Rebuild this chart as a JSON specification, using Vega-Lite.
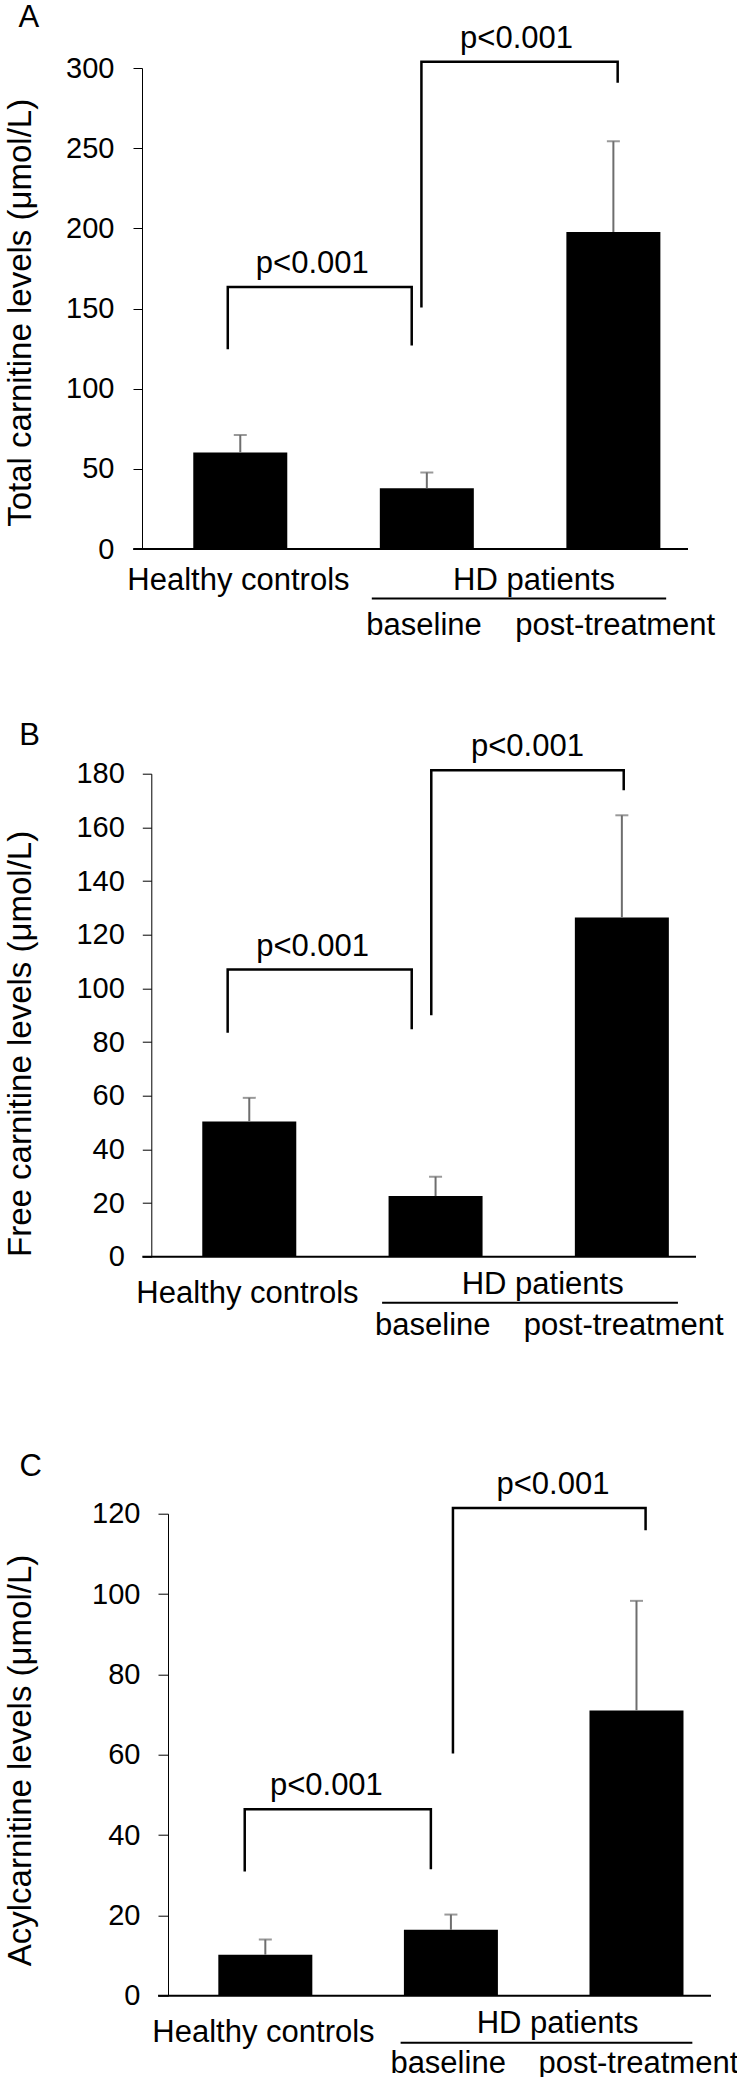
{
  "$schema": "https://vega.github.io/schema/vega-lite/v6.json",
  "padding": {"left": 4, "top": 2, "right": 0, "bottom": 0},
  "background": "#ffffff",
  "config": {
    "view": {"stroke": null},
    "font": "Liberation Sans",
    "axis": {"labelFont": "Liberation Sans", "titleFont": "Liberation Sans"},
    "text": {"font": "Liberation Sans", "color": "#000000"}
  },
  "datasets": {
    "bars": [
      {"panel": "A", "group": "Healthy controls", "x": 1, "y": 60.2, "upper": 71.1},
      {"panel": "A", "group": "HD baseline", "x": 2, "y": 37.9, "upper": 47.7},
      {"panel": "A", "group": "HD post-treatment", "x": 3, "y": 197.7, "upper": 254.3},
      {"panel": "B", "group": "Healthy controls", "x": 1, "y": 50.4, "upper": 59.2},
      {"panel": "B", "group": "HD baseline", "x": 2, "y": 22.6, "upper": 29.8},
      {"panel": "B", "group": "HD post-treatment", "x": 3, "y": 126.4, "upper": 164.5},
      {"panel": "C", "group": "Healthy controls", "x": 1, "y": 10.2, "upper": 14.0},
      {"panel": "C", "group": "HD baseline", "x": 2, "y": 16.4, "upper": 20.2},
      {"panel": "C", "group": "HD post-treatment", "x": 3, "y": 71.0, "upper": 98.3}
    ],
    "brackets": [
      {"panel": "A", "bracket": 1, "order": 1, "x": 0.933, "y": 124.6},
      {"panel": "A", "bracket": 1, "order": 2, "x": 0.933, "y": 163.4},
      {"panel": "A", "bracket": 1, "order": 3, "x": 1.919, "y": 163.4},
      {"panel": "A", "bracket": 1, "order": 4, "x": 1.919, "y": 126.9},
      {"panel": "A", "bracket": 2, "order": 1, "x": 1.971, "y": 150.6},
      {"panel": "A", "bracket": 2, "order": 2, "x": 1.971, "y": 303.9},
      {"panel": "A", "bracket": 2, "order": 3, "x": 3.023, "y": 303.9},
      {"panel": "A", "bracket": 2, "order": 4, "x": 3.023, "y": 290.8},
      {"panel": "B", "bracket": 1, "order": 1, "x": 0.884, "y": 83.5},
      {"panel": "B", "bracket": 1, "order": 2, "x": 0.884, "y": 107.0},
      {"panel": "B", "bracket": 1, "order": 3, "x": 1.872, "y": 107.0},
      {"panel": "B", "bracket": 1, "order": 4, "x": 1.872, "y": 84.8},
      {"panel": "B", "bracket": 2, "order": 1, "x": 1.977, "y": 90.0},
      {"panel": "B", "bracket": 2, "order": 2, "x": 1.977, "y": 181.3},
      {"panel": "B", "bracket": 2, "order": 3, "x": 3.010, "y": 181.3},
      {"panel": "B", "bracket": 2, "order": 4, "x": 3.010, "y": 173.8},
      {"panel": "C", "bracket": 1, "order": 1, "x": 0.889, "y": 30.9},
      {"panel": "C", "bracket": 1, "order": 2, "x": 0.889, "y": 46.4},
      {"panel": "C", "bracket": 1, "order": 3, "x": 1.892, "y": 46.4},
      {"panel": "C", "bracket": 1, "order": 4, "x": 1.892, "y": 31.5},
      {"panel": "C", "bracket": 2, "order": 1, "x": 2.011, "y": 60.3},
      {"panel": "C", "bracket": 2, "order": 2, "x": 2.011, "y": 121.4},
      {"panel": "C", "bracket": 2, "order": 3, "x": 3.049, "y": 121.4},
      {"panel": "C", "bracket": 2, "order": 4, "x": 3.049, "y": 115.9}
    ],
    "notes": [
      {"panel": "A", "kind": "p", "x": 1.386, "y": 163.4, "text": "p<0.001"},
      {"panel": "A", "kind": "p", "x": 2.481, "y": 303.9, "text": "p<0.001"},
      {"panel": "A", "kind": "letter", "x": -0.133, "y": 325.4, "text": "A"},
      {"panel": "B", "kind": "p", "x": 1.340, "y": 107.0, "text": "p<0.001"},
      {"panel": "B", "kind": "p", "x": 2.493, "y": 181.3, "text": "p<0.001"},
      {"panel": "B", "kind": "letter", "x": -0.179, "y": 190.6, "text": "B"},
      {"panel": "C", "kind": "p", "x": 1.329, "y": 46.4, "text": "p<0.001"},
      {"panel": "C", "kind": "p", "x": 2.550, "y": 121.4, "text": "p<0.001"},
      {"panel": "C", "kind": "letter", "x": -0.264, "y": 129.5, "text": "C"}
    ],
    "cats": [
      {"label": "Healthy controls", "x": 0.99, "y": 0, "row": "hc"},
      {"label": "HD patients", "x": 2.575, "y": 0, "row": "hd"},
      {"label": "baseline", "x": 1.985, "y": 0, "row": "sub"},
      {"label": "post-treatment", "x": 3.01, "y": 0, "row": "sub"}
    ],
    "lines": [
      {"panel": "A", "kind": "base", "x": 0.426, "x2": 3.4, "y": 0},
      {"panel": "A", "kind": "under", "x": 1.705, "x2": 3.283, "y": 0},
      {"panel": "B", "kind": "base", "x": 0.426, "x2": 3.398, "y": 0},
      {"panel": "B", "kind": "under", "x": 1.713, "x2": 3.301, "y": 0},
      {"panel": "C", "kind": "base", "x": 0.422, "x2": 3.4015, "y": 0},
      {"panel": "C", "kind": "under", "x": 1.729, "x2": 3.301, "y": 0}
    ]
  },
  "vconcat": [
    {
      "spacing": 78.7,
      "vconcat": [
        {
          "width": 551,
          "height": 481,
          "encoding": {
            "x": {"field": "x", "type": "quantitative", "scale": {"domain": [0.5, 3.4], "nice": false, "zero": false}, "axis": null},
            "y": {"field": "y", "type": "quantitative", "scale": {"domain": [0, 300], "nice": false}, "axis": {"title": "Total carnitine levels (μmol/L)", "values": [0, 50, 100, 150, 200, 250, 300], "grid": false, "tickSize": 9, "tickColor": "#000000", "domainColor": "#000000", "labelFontSize": 29, "labelPadding": 19, "labelColor": "#000000", "titleFontSize": 33, "titleFontWeight": "normal", "titleColor": "#000000", "titleAngle": 270, "titleAlign": "center", "titleBaseline": "alphabetic", "titleX": -111.3, "titleY": 244.3}}
          },
          "layer": [
            {"data": {"name": "bars"}, "transform": [{"filter": "datum.panel === 'A'"}], "mark": {"type": "bar", "orient": "vertical", "width": 94, "color": "#000000"}},
            {"data": {"name": "bars"}, "transform": [{"filter": "datum.panel === 'A'"}], "mark": {"type": "rule", "color": "#6e6e6e", "strokeWidth": 2}, "encoding": {"y2": {"field": "upper"}}},
            {"data": {"name": "bars"}, "transform": [{"filter": "datum.panel === 'A'"}], "mark": {"type": "tick", "orient": "horizontal", "size": 13, "thickness": 2, "color": "#6e6e6e"}, "encoding": {"y": {"field": "upper", "type": "quantitative", "scale": {"domain": [0, 300], "nice": false}, "axis": {"title": "Total carnitine levels (μmol/L)", "values": [0, 50, 100, 150, 200, 250, 300], "grid": false, "tickSize": 9, "tickColor": "#000000", "domainColor": "#000000", "labelFontSize": 29, "labelPadding": 19, "labelColor": "#000000", "titleFontSize": 33, "titleFontWeight": "normal", "titleColor": "#000000", "titleAngle": 270, "titleAlign": "center", "titleBaseline": "alphabetic", "titleX": -111.3, "titleY": 244.3}}}},
            {"data": {"name": "lines"}, "transform": [{"filter": "datum.panel === 'A' && datum.kind === 'base'"}], "mark": {"type": "rule", "color": "#000000", "strokeWidth": 2}, "encoding": {"x2": {"field": "x2"}}},
            {"data": {"name": "brackets"}, "transform": [{"filter": "datum.panel === 'A'"}], "mark": {"type": "line", "color": "#000000", "strokeWidth": 2.5}, "encoding": {"detail": {"field": "bracket"}, "order": {"field": "order", "type": "quantitative"}}},
            {"data": {"name": "notes"}, "transform": [{"filter": "datum.panel === 'A' && datum.kind === 'p'"}], "mark": {"type": "text", "fontSize": 31, "align": "center", "baseline": "alphabetic", "dy": -14}, "encoding": {"text": {"field": "text"}}},
            {"data": {"name": "notes"}, "transform": [{"filter": "datum.panel === 'A' && datum.kind === 'letter'"}], "mark": {"type": "text", "fontSize": 31, "align": "center", "baseline": "alphabetic"}, "encoding": {"text": {"field": "text"}}},
            {"data": {"name": "cats"}, "transform": [{"filter": "datum.row === 'hc'"}], "mark": {"type": "text", "fontSize": 31, "align": "center", "baseline": "alphabetic", "dy": 41}, "encoding": {"text": {"field": "label"}}},
            {"data": {"name": "cats"}, "transform": [{"filter": "datum.row === 'hd'"}], "mark": {"type": "text", "fontSize": 31, "align": "center", "baseline": "alphabetic", "dy": 41}, "encoding": {"text": {"field": "label"}}},
            {"data": {"name": "cats"}, "transform": [{"filter": "datum.row === 'sub'"}], "mark": {"type": "text", "fontSize": 31, "align": "center", "baseline": "alphabetic", "dy": 86}, "encoding": {"text": {"field": "label"}}},
            {"data": {"name": "lines"}, "transform": [{"filter": "datum.panel === 'A' && datum.kind === 'under'"}], "mark": {"type": "rule", "color": "#000000", "strokeWidth": 2, "yOffset": 49.4}, "encoding": {"x2": {"field": "x2"}}}
          ]
        },
        {
          "width": 559,
          "height": 483,
          "encoding": {
            "x": {"field": "x", "type": "quantitative", "scale": {"domain": [0.451, 3.398], "nice": false, "zero": false}, "axis": null},
            "y": {"field": "y", "type": "quantitative", "scale": {"domain": [0, 180], "nice": false}, "axis": {"title": "Free carnitine levels (μmol/L)", "offset": -9.3, "values": [0, 20, 40, 60, 80, 100, 120, 140, 160, 180], "grid": false, "tickSize": 9, "tickColor": "#000000", "domainColor": "#000000", "labelFontSize": 29, "labelPadding": 18, "labelColor": "#000000", "titleFontSize": 33, "titleFontWeight": "normal", "titleColor": "#000000", "titleAngle": 270, "titleAlign": "center", "titleBaseline": "alphabetic", "titleX": -120.6, "titleY": 269.7}}
          },
          "layer": [
            {"data": {"name": "bars"}, "transform": [{"filter": "datum.panel === 'B'"}], "mark": {"type": "bar", "orient": "vertical", "width": 94, "color": "#000000"}},
            {"data": {"name": "bars"}, "transform": [{"filter": "datum.panel === 'B'"}], "mark": {"type": "rule", "color": "#6e6e6e", "strokeWidth": 2}, "encoding": {"y2": {"field": "upper"}}},
            {"data": {"name": "bars"}, "transform": [{"filter": "datum.panel === 'B'"}], "mark": {"type": "tick", "orient": "horizontal", "size": 13, "thickness": 2, "color": "#6e6e6e"}, "encoding": {"y": {"field": "upper", "type": "quantitative", "scale": {"domain": [0, 180], "nice": false}, "axis": {"title": "Free carnitine levels (μmol/L)", "offset": -9.3, "values": [0, 20, 40, 60, 80, 100, 120, 140, 160, 180], "grid": false, "tickSize": 9, "tickColor": "#000000", "domainColor": "#000000", "labelFontSize": 29, "labelPadding": 18, "labelColor": "#000000", "titleFontSize": 33, "titleFontWeight": "normal", "titleColor": "#000000", "titleAngle": 270, "titleAlign": "center", "titleBaseline": "alphabetic", "titleX": -120.6, "titleY": 269.7}}}},
            {"data": {"name": "lines"}, "transform": [{"filter": "datum.panel === 'B' && datum.kind === 'base'"}], "mark": {"type": "rule", "color": "#000000", "strokeWidth": 2}, "encoding": {"x2": {"field": "x2"}}},
            {"data": {"name": "brackets"}, "transform": [{"filter": "datum.panel === 'B'"}], "mark": {"type": "line", "color": "#000000", "strokeWidth": 2.5}, "encoding": {"detail": {"field": "bracket"}, "order": {"field": "order", "type": "quantitative"}}},
            {"data": {"name": "notes"}, "transform": [{"filter": "datum.panel === 'B' && datum.kind === 'p'"}], "mark": {"type": "text", "fontSize": 31, "align": "center", "baseline": "alphabetic", "dy": -14}, "encoding": {"text": {"field": "text"}}},
            {"data": {"name": "notes"}, "transform": [{"filter": "datum.panel === 'B' && datum.kind === 'letter'"}], "mark": {"type": "text", "fontSize": 31, "align": "center", "baseline": "alphabetic"}, "encoding": {"text": {"field": "text"}}},
            {"data": {"name": "cats"}, "transform": [{"filter": "datum.row === 'hc'"}], "mark": {"type": "text", "fontSize": 31, "align": "center", "baseline": "alphabetic", "dy": 46}, "encoding": {"text": {"field": "label"}}},
            {"data": {"name": "cats"}, "transform": [{"filter": "datum.row === 'hd'"}], "mark": {"type": "text", "fontSize": 31, "align": "center", "baseline": "alphabetic", "dy": 37}, "encoding": {"text": {"field": "label"}}},
            {"data": {"name": "cats"}, "transform": [{"filter": "datum.row === 'sub'"}], "mark": {"type": "text", "fontSize": 31, "align": "center", "baseline": "alphabetic", "dy": 78}, "encoding": {"text": {"field": "label"}}},
            {"data": {"name": "lines"}, "transform": [{"filter": "datum.panel === 'B' && datum.kind === 'under'"}], "mark": {"type": "rule", "color": "#000000", "strokeWidth": 2, "yOffset": 46}, "encoding": {"x2": {"field": "x2"}}}
          ]
        }
      ]
    },
    {
      "width": 574,
      "height": 482,
      "encoding": {
        "x": {"field": "x", "type": "quantitative", "scale": {"domain": [0.3624, 3.4015], "nice": false, "zero": false}, "axis": null},
        "y": {"field": "y", "type": "quantitative", "scale": {"domain": [0, 120], "nice": false}, "axis": {"title": "Acylcarnitine levels (μmol/L)", "offset": -26, "values": [0, 20, 40, 60, 80, 100, 120], "grid": false, "tickSize": 10, "tickColor": "#000000", "domainColor": "#000000", "labelFontSize": 29, "labelPadding": 18, "labelColor": "#000000", "titleFontSize": 33, "titleFontWeight": "normal", "titleColor": "#000000", "titleAngle": 270, "titleAlign": "center", "titleBaseline": "alphabetic", "titleX": -137.3, "titleY": 246.3}}
      },
      "layer": [
        {"data": {"name": "bars"}, "transform": [{"filter": "datum.panel === 'C'"}], "mark": {"type": "bar", "orient": "vertical", "width": 94, "color": "#000000"}},
        {"data": {"name": "bars"}, "transform": [{"filter": "datum.panel === 'C'"}], "mark": {"type": "rule", "color": "#6e6e6e", "strokeWidth": 2}, "encoding": {"y2": {"field": "upper"}}},
        {"data": {"name": "bars"}, "transform": [{"filter": "datum.panel === 'C'"}], "mark": {"type": "tick", "orient": "horizontal", "size": 13, "thickness": 2, "color": "#6e6e6e"}, "encoding": {"y": {"field": "upper", "type": "quantitative", "scale": {"domain": [0, 120], "nice": false}, "axis": {"title": "Acylcarnitine levels (μmol/L)", "offset": -26, "values": [0, 20, 40, 60, 80, 100, 120], "grid": false, "tickSize": 10, "tickColor": "#000000", "domainColor": "#000000", "labelFontSize": 29, "labelPadding": 18, "labelColor": "#000000", "titleFontSize": 33, "titleFontWeight": "normal", "titleColor": "#000000", "titleAngle": 270, "titleAlign": "center", "titleBaseline": "alphabetic", "titleX": -137.3, "titleY": 246.3}}}},
        {"data": {"name": "lines"}, "transform": [{"filter": "datum.panel === 'C' && datum.kind === 'base'"}], "mark": {"type": "rule", "color": "#000000", "strokeWidth": 2}, "encoding": {"x2": {"field": "x2"}}},
        {"data": {"name": "brackets"}, "transform": [{"filter": "datum.panel === 'C'"}], "mark": {"type": "line", "color": "#000000", "strokeWidth": 2.5}, "encoding": {"detail": {"field": "bracket"}, "order": {"field": "order", "type": "quantitative"}}},
        {"data": {"name": "notes"}, "transform": [{"filter": "datum.panel === 'C' && datum.kind === 'p'"}], "mark": {"type": "text", "fontSize": 31, "align": "center", "baseline": "alphabetic", "dy": -14}, "encoding": {"text": {"field": "text"}}},
        {"data": {"name": "notes"}, "transform": [{"filter": "datum.panel === 'C' && datum.kind === 'letter'"}], "mark": {"type": "text", "fontSize": 31, "align": "center", "baseline": "alphabetic"}, "encoding": {"text": {"field": "text"}}},
        {"data": {"name": "cats"}, "transform": [{"filter": "datum.row === 'hc'"}], "mark": {"type": "text", "fontSize": 31, "align": "center", "baseline": "alphabetic", "dy": 46.7}, "encoding": {"text": {"field": "label"}}},
        {"data": {"name": "cats"}, "transform": [{"filter": "datum.row === 'hd'"}], "mark": {"type": "text", "fontSize": 31, "align": "center", "baseline": "alphabetic", "dy": 36.8}, "encoding": {"text": {"field": "label"}}},
        {"data": {"name": "cats"}, "transform": [{"filter": "datum.row === 'sub'"}], "mark": {"type": "text", "fontSize": 31, "align": "center", "baseline": "alphabetic", "dy": 77}, "encoding": {"text": {"field": "label"}}},
        {"data": {"name": "lines"}, "transform": [{"filter": "datum.panel === 'C' && datum.kind === 'under'"}], "mark": {"type": "rule", "color": "#000000", "strokeWidth": 2, "yOffset": 47}, "encoding": {"x2": {"field": "x2"}}}
      ]
    }
  ],
  "spacing": 108.7
}
